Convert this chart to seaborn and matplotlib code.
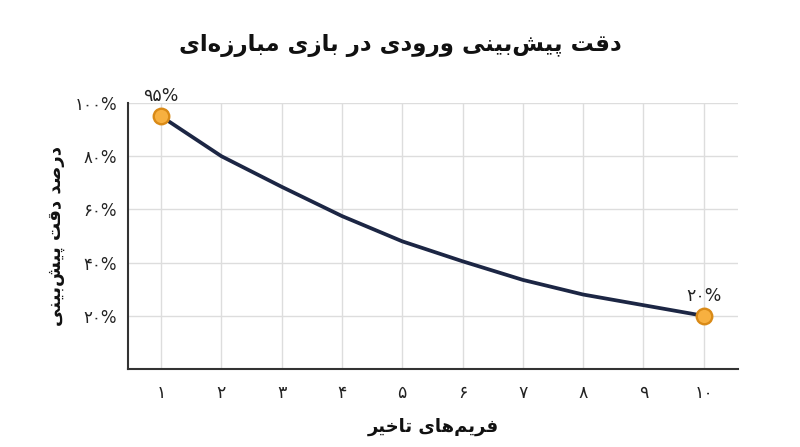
import matplotlib
matplotlib.use("Agg")
import matplotlib.pyplot as plt
import pandas as pd
import seaborn as sns

# data
frames = [1, 2, 3, 4, 5, 6, 7, 8, 9, 10]
accuracy = [95, 80, 68.5, 57.5, 48, 40.5, 33.5, 28, 24, 20]
y_ticks = [20, 40, 60, 80, 100]

title_text = "دقت پیش‌بینی ورودی در بازی مبارزه‌ای"
xlabel_text = "فریم‌های تاخیر"
ylabel_text = "درصد دقت پیش‌بینی"

# matplotlib has no arabic shaping, so map letters to presentation forms
# (isolated, final, initial, medial)
FORMS = {
    "ا": ("\uFE8D", "\uFE8E", None, None),
    "ب": ("\uFE8F", "\uFE90", "\uFE91", "\uFE92"),
    "پ": ("\uFB56", "\uFB57", "\uFB58", "\uFB59"),
    "ت": ("\uFE95", "\uFE96", "\uFE97", "\uFE98"),
    "خ": ("\uFEA5", "\uFEA6", "\uFEA7", "\uFEA8"),
    "د": ("\uFEA9", "\uFEAA", None, None),
    "ر": ("\uFEAD", "\uFEAE", None, None),
    "ز": ("\uFEAF", "\uFEB0", None, None),
    "ش": ("\uFEB5", "\uFEB6", "\uFEB7", "\uFEB8"),
    "ص": ("\uFEB9", "\uFEBA", "\uFEBB", "\uFEBC"),
    "ف": ("\uFED1", "\uFED2", "\uFED3", "\uFED4"),
    "ق": ("\uFED5", "\uFED6", "\uFED7", "\uFED8"),
    "م": ("\uFEE1", "\uFEE2", "\uFEE3", "\uFEE4"),
    "ن": ("\uFEE5", "\uFEE6", "\uFEE7", "\uFEE8"),
    "ه": ("\uFEE9", "\uFEEA", "\uFEEB", "\uFEEC"),
    "و": ("\uFEED", "\uFEEE", None, None),
    "ی": ("\uFBFC", "\uFBFD", "\uFBFE", "\uFBFF"),
}


def shape(text):
    out = []
    n = len(text)
    for i, ch in enumerate(text):
        if ch == "\u200c":
            continue
        if ch not in FORMS:
            out.append(ch)
            continue
        prev = text[i - 1] if i > 0 else ""
        nxt = text[i + 1] if i < n - 1 else ""
        join_prev = prev in FORMS and FORMS[prev][2] is not None
        join_next = FORMS[ch][2] is not None and nxt in FORMS
        iso, fin, ini, med = FORMS[ch]
        if join_prev and join_next:
            out.append(med)
        elif join_prev:
            out.append(fin)
        elif join_next:
            out.append(ini)
        else:
            out.append(iso)
    return "".join(out)[::-1]


def fa_num(v):
    digits = "۰۱۲۳۴۵۶۷۸۹"
    return "".join(digits[int(c)] if c.isdigit() else c for c in str(v))


df = pd.DataFrame({"frame": frames, "accuracy": accuracy})
ends = df.iloc[[0, -1]]

sns.set_theme(style="whitegrid")
plt.rcParams["font.family"] = ["DejaVu Sans"]

fig = plt.figure(figsize=(8, 4.47), dpi=100)
ax = fig.add_axes([0.16, 0.1745, 0.7625, 0.595])

sns.lineplot(data=df, x="frame", y="accuracy", ax=ax, color="#1c2644",
             linewidth=2.7, zorder=3, solid_joinstyle="round",
             solid_capstyle="round")
sns.scatterplot(data=ends, x="frame", y="accuracy", ax=ax, s=125,
                color="#f7b040", edgecolor="#d98a17", linewidth=1.7,
                zorder=4, clip_on=False)

for _, r in ends.iterrows():
    ax.annotate(fa_num(int(r["accuracy"])) + "%", (r["frame"], r["accuracy"]),
                xytext=(0, 8), textcoords="offset points", ha="center",
                va="bottom", fontsize=12.5, color="#222222")

ax.set_xlim(0.45, 10.57)
ax.set_ylim(0, 100)
ax.set_xticks(frames)
ax.set_xticklabels([fa_num(f) for f in frames], fontsize=12.5, color="#222222")
ax.set_yticks(y_ticks)
ax.set_yticklabels([fa_num(t) + "%" for t in y_ticks], fontsize=12,
                   color="#222222")
ax.tick_params(axis="x", length=0, pad=11)
ax.tick_params(axis="y", length=0, pad=8)

ax.grid(True, color="#dddddd", linewidth=1)
for side in ["top", "right"]:
    ax.spines[side].set_visible(False)
for side in ["left", "bottom"]:
    ax.spines[side].set_color("#333333")
    ax.spines[side].set_linewidth(1.5)

ax.set_xlabel(shape(xlabel_text), fontsize=13, fontweight="bold",
              color="#111111", labelpad=11)
ax.set_ylabel(shape(ylabel_text), fontsize=13, fontweight="bold",
              color="#111111", labelpad=7)
fig.suptitle(shape(title_text), x=0.5, y=0.925, fontsize=16.5,
             fontweight="bold", color="#111111")

fig.savefig("out.png", dpi=100, facecolor="white")
